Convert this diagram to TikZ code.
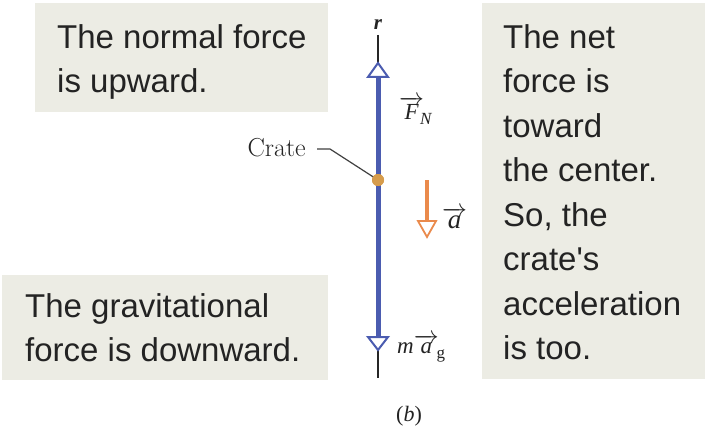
\documentclass[tikz,border=0pt]{standalone}
\usepackage{graphicx}
\usepackage{fontspec}
\newfontfamily\boxfont{Liberation Sans}
\newfontfamily\labelfont{Liberation Serif}
\definecolor{boxbg}{RGB}{236,236,228}
\definecolor{fblue}{RGB}{75,92,176}
\definecolor{aorange}{RGB}{234,138,76}
\definecolor{cratec}{RGB}{214,156,76}
\definecolor{txt}{RGB}{35,35,35}
\newcommand{\vecl}[1]{$\overrightarrow{\hbox{#1}}$}
\begin{document}
\begin{tikzpicture}[x=1pt,y=-1pt,
  panel/.style={fill=boxbg, draw=none, inner sep=0pt, anchor=north west, rectangle},
  boxtext/.style={font=\boxfont\fontsize{33}{44.5}\selectfont, text=txt, align=left, anchor=north west, inner sep=0pt},
  lbl/.style={inner sep=0pt, text=txt},
  thinline/.style={draw=black!85, line width=1.2pt},
  bluetip/.style={draw=fblue, line width=2pt, fill=white, line join=miter},
  orangetip/.style={draw=aorange, line width=1.8pt, fill=white, line join=miter}]
\useasboundingbox[fill=white] (0,0) rectangle (712,441);
% panels
\node[panel, minimum width=293pt, minimum height=109pt] (p1) at (35,3) {};
\node[panel, minimum width=223pt, minimum height=376pt] (p2) at (482,3) {};
\node[panel, minimum width=326pt, minimum height=105pt] (p3) at (2,275) {};
\node[boxtext] (t1) at (57,24) {The normal force\\is upward.};
\node[boxtext] (t2) at (503,24) {The net\\force is\\toward\\the center.\\So, the\\crate's\\acceleration\\is too.};
\node[boxtext] (t3) at (25,293) {The gravitational\\force is downward.};
% axis
\coordinate (rtop) at (378,35);
\coordinate (ntip) at (378,63);
\coordinate (nbase) at (378,77);
\coordinate (gbase) at (378,337);
\coordinate (gtip) at (378,350);
\coordinate (rbot) at (378,378);
\draw[thinline] (rtop) -- (ntip);
\draw[thinline] (gtip) -- (rbot);
\draw[fblue, line width=5pt] (nbase) -- (gbase);
\draw[bluetip] (ntip) -- (368,77) -- (388,77) -- cycle;
\draw[bluetip] (gtip) -- (368,337) -- (388,337) -- cycle;
\node[lbl, font=\labelfont\bfseries\itshape\fontsize{21}{24}\selectfont, anchor=base] (r) at (378,30) {r};
% crate
\node[lbl, font=\fontsize{26}{30}\selectfont, anchor=base east] (clbl) at (306,157) {Crate};
\coordinate (l1) at (317,149);
\coordinate (l2) at (330,149);
\node[circle, fill=cratec, minimum size=12pt, inner sep=0pt] (crate) at (378,180) {};
\draw[draw=black!75, line width=1.2pt] (l1) -- (l2) -- (crate.center);
\node[circle, fill=cratec, minimum size=12pt, inner sep=0pt] at (crate) {};
% acceleration arrow
\coordinate (atop) at (427,180);
\coordinate (abase) at (427,221);
\coordinate (atip) at (427,237);
\draw[aorange, line width=4pt] (atop) -- (abase);
\draw[orangetip] (atip) -- (418,221) -- (436,221) -- cycle;
% labels
\node[lbl, font=\labelfont\itshape\fontsize{23}{26}\selectfont, anchor=base west] (fn) at (399,120)
  {\vecl{F}\kern-4pt\raisebox{-5pt}{\fontsize{17}{18}\selectfont N}};
\node[lbl, font=\labelfont\itshape\fontsize{27}{30}\selectfont, anchor=base west] (al) at (442,228) {\vecl{a}};
\node[lbl, font=\labelfont\itshape\fontsize{23}{26}\selectfont, anchor=base west] (mg) at (397,353)
  {m\vecl{a}\kern-2pt\raisebox{-5pt}{\fontsize{17}{18}\upshape\selectfont g}};
\node[lbl, font=\labelfont\fontsize{22}{24}\selectfont, anchor=base] (cap) at (409,421) {(\textit{b})};
\end{tikzpicture}
\end{document}
